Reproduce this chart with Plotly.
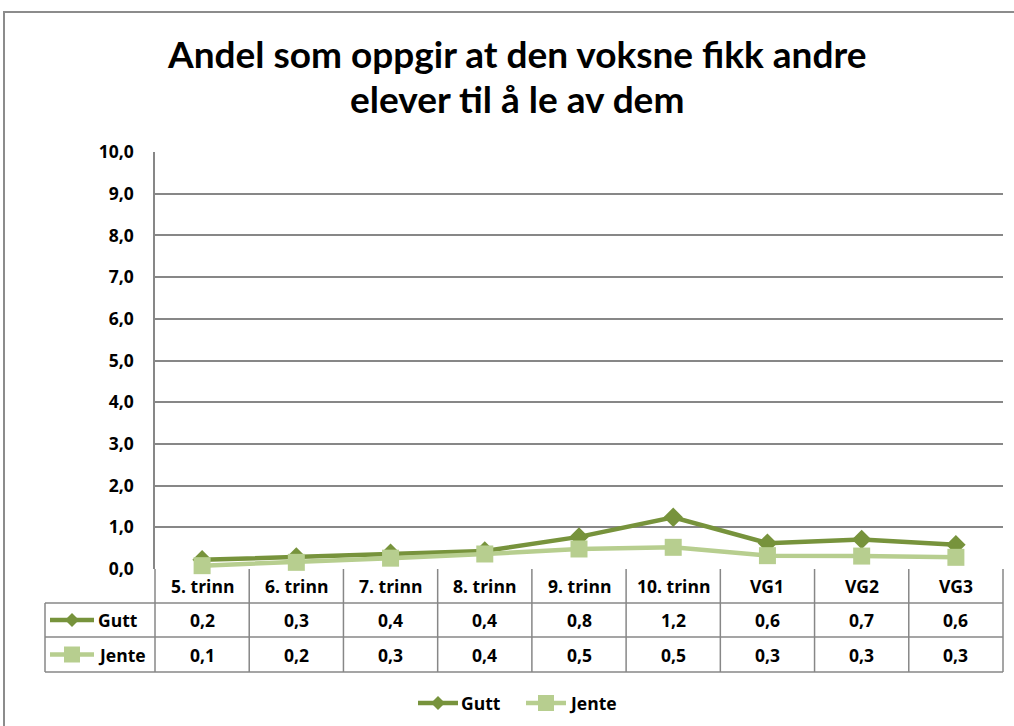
import plotly.graph_objects as go

title_lines = ["Andel som oppgir at den voksne fikk andre", "elever til å le av dem"]
categories = ["5. trinn", "6. trinn", "7. trinn", "8. trinn", "9. trinn", "10. trinn", "VG1", "VG2", "VG3"]
gutt = [0.22, 0.29, 0.38, 0.43, 0.77, 1.24, 0.62, 0.71, 0.58]
jente = [0.08, 0.16, 0.26, 0.36, 0.48, 0.52, 0.32, 0.31, 0.28]
gutt_labels = ["0,2", "0,3", "0,4", "0,4", "0,8", "1,2", "0,6", "0,7", "0,6"]
jente_labels = ["0,1", "0,2", "0,3", "0,4", "0,5", "0,5", "0,3", "0,3", "0,3"]
y_ticks = [0, 1, 2, 3, 4, 5, 6, 7, 8, 9, 10]
y_tick_labels = ["0,0", "1,0", "2,0", "3,0", "4,0", "5,0", "6,0", "7,0", "8,0", "9,0", "10,0"]
series_names = ["Gutt", "Jente"]

GUTT_C = "#77933C"
JENTE_C = "#B7CE8F"
GRID_C = "#878787"
TFONT = "Lato"
FONT = "Open Sans"
FS = 17.5

W, H = 1014, 726
L, R, T, B = 155, 1003, 152, 569
pw, ph = R - L, B - T

def px_x(p):
    return (p - L) / pw

def px_y(p):
    return (B - p) / ph

n = len(categories)
fig = go.Figure()
fig.add_trace(go.Scatter(x=categories, y=gutt, name=series_names[0], mode="lines+markers",
                         line=dict(color=GUTT_C, width=4.5),
                         marker=dict(symbol="diamond", size=15, color=GUTT_C), cliponaxis=False))
fig.add_trace(go.Scatter(x=categories, y=jente, name=series_names[1], mode="lines+markers",
                         line=dict(color=JENTE_C, width=4.5),
                         marker=dict(symbol="square", size=17, color=JENTE_C), cliponaxis=False))

shapes = []
line_style = dict(color=GRID_C, width=1.5)
row_y = [B + 34, B + 68, B + 103]
for ry in row_y:
    shapes.append(dict(type="line", xref="paper", yref="paper", x0=px_x(45), x1=1, y0=px_y(ry), y1=px_y(ry), line=line_style))
for i in range(n + 1):
    shapes.append(dict(type="line", xref="paper", yref="paper", x0=i / n, x1=i / n, y0=0, y1=px_y(row_y[2]), line=line_style))
shapes.append(dict(type="line", xref="paper", yref="paper", x0=px_x(45), x1=px_x(45), y0=px_y(row_y[0]), y1=px_y(row_y[2]), line=line_style))
# outer chart frame
shapes.append(dict(type="rect", xref="paper", yref="paper", x0=px_x(4), x1=px_x(1040), y0=px_y(12), y1=px_y(760),
                   line=dict(color="#8C8C8C", width=2), layer="below"))

def key(x0p, x1p, yc, color, symbol):
    out = [dict(type="line", xref="paper", yref="paper", x0=px_x(x0p), x1=px_x(x1p), y0=px_y(yc), y1=px_y(yc),
                line=dict(color=color, width=4.5))]
    cx = (x0p + x1p) / 2
    if symbol == "diamond":
        s = 7
        path = (f"M {px_x(cx)},{px_y(yc - s)} L {px_x(cx + s)},{px_y(yc)} "
                f"L {px_x(cx)},{px_y(yc + s)} L {px_x(cx - s)},{px_y(yc)} Z")
        out.append(dict(type="path", xref="paper", yref="paper", path=path, fillcolor=color, line=dict(width=0)))
    else:
        s = 8
        out.append(dict(type="rect", xref="paper", yref="paper", x0=px_x(cx - s), x1=px_x(cx + s),
                        y0=px_y(yc + s), y1=px_y(yc - s), fillcolor=color, line=dict(width=0)))
    return out

gutt_y = (row_y[0] + row_y[1]) / 2
jente_y = (row_y[1] + row_y[2]) / 2
shapes += key(50, 94, gutt_y, GUTT_C, "diamond")
shapes += key(50, 94, jente_y, JENTE_C, "square")
LEG_Y = 703
shapes += key(418, 458, LEG_Y, GUTT_C, "diamond")
shapes += key(526, 566, LEG_Y, JENTE_C, "square")

annotations = []
tf = dict(family=FONT, size=FS, color="#000000")

def ann(x, y, text, anchor="center", font=tf):
    annotations.append(dict(x=x, y=y, xref="paper", yref="paper", xanchor=anchor, yanchor="middle",
                            text=text, showarrow=False, font=font))

cat_y = (B + row_y[0]) / 2
for i, c in enumerate(categories):
    xc = (i + 0.5) / n
    ann(xc, px_y(cat_y), f"<b>{c}</b>")
    ann(xc, px_y(gutt_y), f"<b>{gutt_labels[i]}</b>")
    ann(xc, px_y(jente_y), f"<b>{jente_labels[i]}</b>")
ann(px_x(96), px_y(gutt_y), f"<b>{series_names[0]}</b>", "left")
ann(px_x(96), px_y(jente_y), f"<b>{series_names[1]}</b>", "left")
ann(px_x(459), px_y(LEG_Y), f"<b>{series_names[0]}</b>", "left")
ann(px_x(567), px_y(LEG_Y), f"<b>{series_names[1]}</b>", "left")
title_font = dict(family=TFONT, size=37, color="#000000")
ann(px_x(517), px_y(54), f"<b>{title_lines[0]}</b>", "center", title_font)
ann(px_x(517), px_y(99), f"<b>{title_lines[1]}</b>", "center", title_font)

fig.update_layout(
    width=W, height=H,
    margin=dict(l=L, r=W - R, t=T, b=H - B, pad=0),
    paper_bgcolor="white", plot_bgcolor="white",
    xaxis=dict(type="category", range=[-0.5, n - 0.5], showticklabels=False, showgrid=False, zeroline=False,
               showline=False, ticks=""),
    yaxis=dict(range=[0, 10], tickvals=y_ticks, ticktext=[f"<b>{t}</b>" for t in y_tick_labels],
               showgrid=True, gridcolor=GRID_C, gridwidth=1.5, zeroline=False,
               showline=True, linecolor=GRID_C, linewidth=1.5, ticks="", ticklabelstandoff=16,
               tickfont=dict(family=FONT, size=FS, color="#000000")),
    shapes=shapes, annotations=annotations,
    showlegend=False,
)
fig.write_html("out.html", config={"displayModeBar": False},
               post_script="document.body.style.margin='0';document.body.style.overflow='hidden';")
